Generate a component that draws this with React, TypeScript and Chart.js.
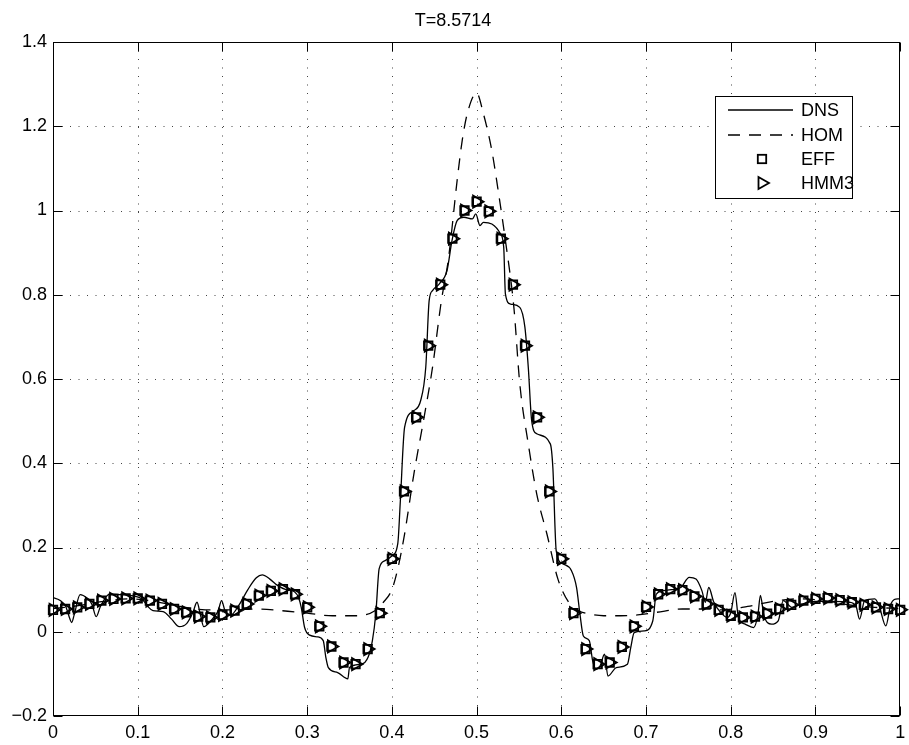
import React, { useEffect, useRef } from 'react';
import { Chart, registerables } from 'chart.js';

Chart.register(...registerables);

const titleText = 'T=8.5714';
const fontFamily = '"Liberation Sans", Arial, Helvetica, sans-serif';

const xMin = 0;
const xMax = 1;
const yMin = -0.2;
const yMax = 1.4;
const xStep = 0.1;
const yStep = 0.2;

const legendLabels = ['DNS', 'HOM', 'EFF', 'HMM3'];

// DNS (solid)
const dnsX = [
  0.000, 0.008, 0.015, 0.020, 0.022, 0.025, 0.032, 0.040, 0.046, 0.051, 0.056, 0.067, 0.080, 0.095, 0.105, 0.112,
  0.118, 0.130, 0.140, 0.149, 0.158, 0.165, 0.170, 0.174, 0.178, 0.188, 0.195, 0.199, 0.203, 0.210, 0.220, 0.230,
  0.240, 0.247, 0.256, 0.265, 0.275, 0.285, 0.290, 0.293, 0.297, 0.303, 0.312, 0.319, 0.322, 0.325, 0.336, 0.348,
  0.350, 0.364, 0.372, 0.377, 0.381, 0.385, 0.392, 0.400, 0.407, 0.410, 0.415, 0.426, 0.434, 0.440, 0.444, 0.448,
  0.456, 0.465, 0.471, 0.477, 0.485, 0.495, 0.499, 0.504, 0.508, 0.518, 0.528, 0.532, 0.534, 0.540, 0.551, 0.557,
  0.561, 0.565, 0.571, 0.587, 0.590, 0.594, 0.602, 0.612, 0.618, 0.622, 0.626, 0.633, 0.637, 0.641, 0.646, 0.651,
  0.655, 0.665, 0.678, 0.682, 0.686, 0.698, 0.708, 0.712, 0.719, 0.730, 0.741, 0.751, 0.759, 0.766, 0.770, 0.774,
  0.780, 0.788, 0.796, 0.800, 0.805, 0.809, 0.817, 0.827, 0.832, 0.835, 0.839, 0.848, 0.856, 0.862, 0.872, 0.884,
  0.900, 0.920, 0.940, 0.948, 0.952, 0.958, 0.970, 0.975, 0.983, 0.989, 0.997, 1.000,
];
const dnsY = [
  0.081, 0.075, 0.060, 0.030, 0.022, 0.040, 0.088, 0.080, 0.065, 0.036, 0.060, 0.090, 0.088, 0.085, 0.078, 0.060,
  0.050, 0.048, 0.030, 0.012, 0.020, 0.045, 0.070, 0.040, 0.012, 0.030, 0.050, 0.074, 0.050, 0.040, 0.065, 0.100,
  0.128, 0.135, 0.125, 0.110, 0.100, 0.095, 0.080, 0.058, 0.010, -0.008, -0.012, -0.021, -0.060, -0.085, -0.097, -0.112,
  -0.085, -0.077, -0.060, -0.021, 0.042, 0.150, 0.169, 0.180, 0.210, 0.311, 0.485, 0.525, 0.549, 0.628, 0.786, 0.810,
  0.826, 0.857, 0.929, 0.976, 0.984, 0.980, 0.992, 0.964, 0.972, 0.968, 0.945, 0.913, 0.802, 0.778, 0.770, 0.723,
  0.628, 0.501, 0.470, 0.446, 0.390, 0.192, 0.161, 0.145, 0.105, 0.042, -0.010, -0.021, -0.069, -0.089, -0.080, -0.053,
  -0.105, -0.085, -0.077, -0.037, -0.002, 0.002, 0.026, 0.089, 0.097, 0.100, 0.105, 0.129, 0.125, 0.097, 0.070, 0.105,
  0.070, 0.046, 0.034, 0.045, 0.093, 0.034, 0.018, 0.010, 0.040, 0.086, 0.040, 0.018, 0.026, 0.074, 0.058, 0.066,
  0.072, 0.072, 0.070, 0.060, 0.030, 0.074, 0.078, 0.062, 0.014, 0.066, 0.078, 0.078,
];

// HOM (dashed)
const homX = [
  0.00, 0.03, 0.06, 0.09, 0.12, 0.15, 0.18, 0.21, 0.24, 0.27, 0.30, 0.33, 0.36, 0.38, 0.39, 0.40,
  0.407, 0.415, 0.426, 0.438, 0.448, 0.458, 0.467, 0.477, 0.483, 0.489, 0.50, 0.508, 0.518, 0.526, 0.534,
  0.544, 0.551, 0.561, 0.571, 0.583, 0.596, 0.61, 0.62, 0.633, 0.65, 0.67, 0.69, 0.712, 0.743, 0.77,
  0.79, 0.82, 0.85, 0.88, 0.91, 0.94, 0.97, 1.00,
];
const homY = [
  0.055, 0.062, 0.072, 0.078, 0.072, 0.060, 0.052, 0.052, 0.054, 0.050, 0.044, 0.038, 0.038, 0.050, 0.070, 0.100,
  0.150, 0.232, 0.375, 0.509, 0.628, 0.780, 0.889, 1.071, 1.166, 1.230, 1.279, 1.230, 1.142, 1.040, 0.929,
  0.770, 0.588, 0.446, 0.327, 0.232, 0.125, 0.066, 0.050, 0.042, 0.038, 0.038, 0.040, 0.046, 0.054, 0.054,
  0.052, 0.060, 0.072, 0.078, 0.074, 0.064, 0.058, 0.055,
];

// EFF (squares) and HMM3 (triangles) on the coarse grid
const markerX = [
  0, 0.0143, 0.0286, 0.0429, 0.0571, 0.0714, 0.0857, 0.1, 0.1143, 0.1286, 0.1429, 0.1571, 0.1714, 0.1857,
  0.2, 0.2143, 0.2286, 0.2429, 0.2571, 0.2714, 0.2857, 0.3, 0.3143, 0.3286, 0.3429, 0.3571, 0.3714, 0.3857,
  0.4, 0.4143, 0.4286, 0.4429, 0.4571, 0.4714, 0.4857, 0.5, 0.5143, 0.5286, 0.5429, 0.5571, 0.5714, 0.5857,
  0.6, 0.6143, 0.6286, 0.6429, 0.6571, 0.6714, 0.6857, 0.7, 0.7143, 0.7286, 0.7429, 0.7571, 0.7714, 0.7857,
  0.8, 0.8143, 0.8286, 0.8429, 0.8571, 0.8714, 0.8857, 0.9, 0.9143, 0.9286, 0.9429, 0.9571, 0.9714, 0.9857, 1,
];
const effY = [
  0.052, 0.054, 0.058, 0.066, 0.074, 0.078, 0.079, 0.079, 0.074, 0.066, 0.054, 0.046, 0.036, 0.034,
  0.040, 0.050, 0.066, 0.086, 0.097, 0.101, 0.089, 0.058, 0.013, -0.035, -0.073, -0.077, -0.041, 0.044,
  0.173, 0.333, 0.509, 0.679, 0.824, 0.933, 1.000, 1.021, 0.998, 0.933, 0.824, 0.679, 0.509, 0.333,
  0.173, 0.044, -0.041, -0.077, -0.073, -0.036, 0.013, 0.059, 0.089, 0.101, 0.099, 0.084, 0.066, 0.052,
  0.038, 0.034, 0.036, 0.043, 0.054, 0.064, 0.074, 0.078, 0.080, 0.075, 0.070, 0.064, 0.058, 0.054, 0.052,
];
const hmm3Y = [
  0.052, 0.054, 0.058, 0.066, 0.074, 0.078, 0.079, 0.079, 0.074, 0.066, 0.054, 0.046, 0.036, 0.034,
  0.040, 0.050, 0.066, 0.086, 0.097, 0.101, 0.089, 0.058, 0.013, -0.035, -0.073, -0.077, -0.041, 0.044,
  0.173, 0.333, 0.509, 0.679, 0.824, 0.933, 1.000, 1.021, 0.998, 0.933, 0.824, 0.679, 0.509, 0.333,
  0.173, 0.044, -0.041, -0.077, -0.073, -0.036, 0.013, 0.059, 0.089, 0.101, 0.099, 0.084, 0.066, 0.052,
  0.038, 0.034, 0.036, 0.043, 0.054, 0.064, 0.074, 0.078, 0.080, 0.075, 0.070, 0.064, 0.058, 0.054, 0.052,
];

const toPoints = (xs: number[], ys: number[]) => xs.map((x, i) => ({ x, y: ys[i] }));

const fmt = (v: number) => {
  const s = String(Number(Number(v).toFixed(1)));
  return s.startsWith('-') ? '\u2212' + s.slice(1) : s;
};

const framePlugin = {
  id: 'matlabFrame',
  beforeDatasetsDraw(chart: any) {
    const { ctx, chartArea: a, scales } = chart;
    const xs = scales.x;
    const ys = scales.y;
    ctx.save();
    ctx.strokeStyle = '#444';
    ctx.lineWidth = 1;
    ctx.setLineDash([1, 7.5]);
    xs.ticks.forEach((t: any) => {
      if (t.value > xMin + 1e-6 && t.value < xMax - 1e-6) {
        const px = Math.round(xs.getPixelForValue(t.value)) + 0.5;
        ctx.beginPath();
        ctx.moveTo(px, a.top);
        ctx.lineTo(px, a.bottom);
        ctx.stroke();
      }
    });
    ys.ticks.forEach((t: any) => {
      if (t.value > yMin + 1e-6 && t.value < yMax - 1e-6) {
        const py = Math.round(ys.getPixelForValue(t.value)) + 0.5;
        ctx.beginPath();
        ctx.moveTo(a.left, py);
        ctx.lineTo(a.right, py);
        ctx.stroke();
      }
    });
    ctx.restore();
  },
  afterDraw(chart: any) {
    const { ctx, chartArea: a, scales } = chart;
    const xs = scales.x;
    const ys = scales.y;
    ctx.save();
    ctx.setLineDash([]);

    // Legend
    const lx0 = 715, lx1 = 852, ly0 = 96, ly1 = 198;
    ctx.fillStyle = '#fff';
    ctx.fillRect(lx0, ly0, lx1 - lx0, ly1 - ly0);
    ctx.strokeStyle = '#000';
    ctx.lineWidth = 1;
    ctx.strokeRect(lx0 + 0.5, ly0 + 0.5, lx1 - lx0, ly1 - ly0);
    const rows = [110, 135, 159, 183];
    ctx.font = `18px ${fontFamily}`;
    ctx.fillStyle = '#000';
    ctx.textBaseline = 'middle';
    ctx.textAlign = 'left';
    legendLabels.forEach((lab, i) => {
      ctx.fillText(lab, 801, rows[i] + 1);
    });
    ctx.lineWidth = 1.3;
    ctx.beginPath();
    ctx.moveTo(728, rows[0]);
    ctx.lineTo(793, rows[0]);
    ctx.stroke();
    ctx.setLineDash([12, 9]);
    ctx.beginPath();
    ctx.moveTo(728, rows[1]);
    ctx.lineTo(793, rows[1]);
    ctx.stroke();
    ctx.setLineDash([]);
    ctx.lineWidth = 1.8;
    ctx.strokeRect(762 - 4.2, rows[2] - 4.2, 8.4, 8.4);
    const r = 7;
    ctx.beginPath();
    ctx.moveTo(762 + r, rows[3]);
    ctx.lineTo(762 - r / 2, rows[3] - r * 0.866);
    ctx.lineTo(762 - r / 2, rows[3] + r * 0.866);
    ctx.closePath();
    ctx.stroke();

    // Box
    ctx.lineWidth = 1;
    ctx.strokeStyle = '#000';
    const L = Math.round(a.left) + 0.5, R = Math.round(a.right) - 0.5;
    const T = Math.round(a.top) + 0.5, B = Math.round(a.bottom) - 0.5;
    ctx.strokeRect(L, T, R - L, B - T);
    const tl = 9;
    ctx.beginPath();
    xs.ticks.forEach((t: any) => {
      const px = Math.round(xs.getPixelForValue(t.value)) + 0.5;
      ctx.moveTo(px, B);
      ctx.lineTo(px, B - tl);
      ctx.moveTo(px, T);
      ctx.lineTo(px, T + tl);
    });
    ys.ticks.forEach((t: any) => {
      const py = Math.round(ys.getPixelForValue(t.value)) + 0.5;
      ctx.moveTo(L, py);
      ctx.lineTo(L + tl, py);
      ctx.moveTo(R, py);
      ctx.lineTo(R - tl, py);
    });
    ctx.stroke();
    ctx.restore();
  },
};

export default function App() {
  const ref = useRef<HTMLCanvasElement | null>(null);

  useEffect(() => {
    if (!ref.current) return;
    const chart = new Chart(ref.current, {
      type: 'scatter',
      data: {
        datasets: [
          {
            label: 'DNS',
            data: toPoints(dnsX, dnsY),
            showLine: true,
            borderColor: '#000',
            borderWidth: 1.3,
            pointRadius: 0,
            cubicInterpolationMode: 'monotone',
          },
          {
            label: 'HOM',
            data: toPoints(homX, homY),
            showLine: true,
            borderColor: '#000',
            borderWidth: 1.3,
            borderDash: [12, 9],
            pointRadius: 0,
            cubicInterpolationMode: 'monotone',
          },
          {
            label: 'EFF',
            data: toPoints(markerX, effY),
            showLine: false,
            pointStyle: 'rect',
            pointRadius: 6,
            borderColor: '#000',
            borderWidth: 1.8,
            backgroundColor: 'rgba(0,0,0,0)',
            clip: false,
          },
          {
            label: 'HMM3',
            data: toPoints(markerX, hmm3Y),
            showLine: false,
            pointStyle: 'triangle',
            pointRotation: 90,
            pointRadius: 7,
            borderColor: '#000',
            borderWidth: 1.8,
            backgroundColor: 'rgba(0,0,0,0)',
            clip: false,
          },
        ] as any,
      },
      options: {
        animation: false,
        responsive: false,
        maintainAspectRatio: false,
        events: [],
        layout: { padding: { left: 0, right: 3, top: 0, bottom: 0 } },
        plugins: {
          legend: { display: false },
          tooltip: { enabled: false },
          title: {
            display: true,
            text: titleText,
            color: '#000',
            font: { family: fontFamily, size: 18, weight: 'normal' },
            padding: { top: 10, bottom: 10.4 },
          },
        },
        scales: {
          x: {
            type: 'linear',
            min: xMin,
            max: xMax,
            grid: { display: false, drawTicks: false },
            border: { display: false },
            ticks: {
              stepSize: xStep,
              color: '#000',
              padding: 6,
              maxRotation: 0,
              autoSkip: false,
              font: { family: fontFamily, size: 18 },
              callback: (v: any) => fmt(v),
            },
            afterFit: (s: any) => {
              s.height = 29;
              s.paddingLeft = 0;
              s.paddingRight = 0;
            },
          },
          y: {
            type: 'linear',
            min: yMin,
            max: yMax,
            grid: { display: false, drawTicks: false },
            border: { display: false },
            ticks: {
              stepSize: yStep,
              color: '#000',
              padding: 6,
              autoSkip: false,
              font: { family: fontFamily, size: 18 },
              callback: (v: any) => fmt(v),
            },
            afterFit: (s: any) => {
              s.width = 53;
            },
          },
        },
      } as any,
      plugins: [framePlugin],
    });
    return () => chart.destroy();
  }, []);

  return (
    <div style={{ position: 'fixed', left: 0, top: 0, width: 909, height: 745, background: '#fff' }}>
      <canvas ref={ref} width={909} height={745} style={{ display: 'block' }} />
    </div>
  );
}
